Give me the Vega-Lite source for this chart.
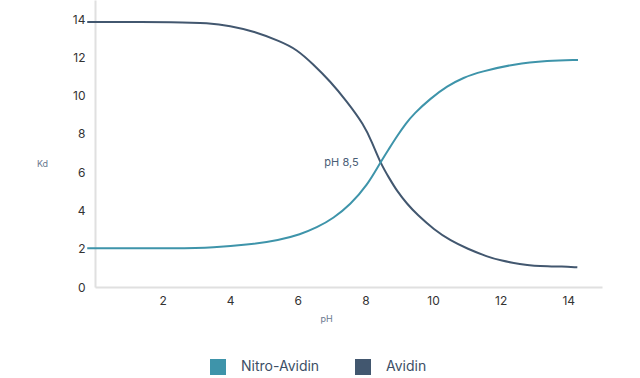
{
  "$schema": "https://vega.github.io/schema/vega-lite/v6.json",
  "width": 507,
  "height": 287,
  "autosize": "none",
  "padding": {"left": 95, "top": 0, "right": 38, "bottom": 91},
  "config": {
    "view": {"stroke": null},
    "font": "Inter",
    "axis": {"grid": false, "ticks": false, "domainColor": "#e0e0e0", "domainWidth": 2, "labelColor": "#333333", "labelFontSize": 12, "labelFont": "Inter", "titleFont": "Inter", "titleFontWeight": "normal", "titleFontSize": 9, "titleColor": "#6b7a90"}
  },
  "layer": [
    {
      "data": {"values": [
        {"ph": -0.23, "kd": 13.85, "s": "Avidin"},
        {"ph": 2.6, "kd": 13.85, "s": "Avidin"},
        {"ph": 3.3, "kd": 13.8, "s": "Avidin"},
        {"ph": 4.0, "kd": 13.66, "s": "Avidin"},
        {"ph": 4.7, "kd": 13.36, "s": "Avidin"},
        {"ph": 5.47, "kd": 12.85, "s": "Avidin"},
        {"ph": 5.97, "kd": 12.42, "s": "Avidin"},
        {"ph": 6.45, "kd": 11.65, "s": "Avidin"},
        {"ph": 6.96, "kd": 10.75, "s": "Avidin"},
        {"ph": 7.45, "kd": 9.7, "s": "Avidin"},
        {"ph": 7.95, "kd": 8.5, "s": "Avidin"},
        {"ph": 8.2, "kd": 7.55, "s": "Avidin"},
        {"ph": 8.44, "kd": 6.5, "s": "Avidin"},
        {"ph": 8.7, "kd": 5.7, "s": "Avidin"},
        {"ph": 8.94, "kd": 5.0, "s": "Avidin"},
        {"ph": 9.23, "kd": 4.35, "s": "Avidin"},
        {"ph": 9.53, "kd": 3.78, "s": "Avidin"},
        {"ph": 10.03, "kd": 3.0, "s": "Avidin"},
        {"ph": 10.52, "kd": 2.42, "s": "Avidin"},
        {"ph": 11.02, "kd": 2.0, "s": "Avidin"},
        {"ph": 11.61, "kd": 1.58, "s": "Avidin"},
        {"ph": 12.01, "kd": 1.38, "s": "Avidin"},
        {"ph": 12.6, "kd": 1.18, "s": "Avidin"},
        {"ph": 13.0, "kd": 1.1, "s": "Avidin"},
        {"ph": 13.39, "kd": 1.08, "s": "Avidin"},
        {"ph": 13.8, "kd": 1.07, "s": "Avidin"},
        {"ph": 14.27, "kd": 1.03, "s": "Avidin"},
        {"ph": -0.23, "kd": 2.02, "s": "Nitro-Avidin"},
        {"ph": 2.6, "kd": 2.02, "s": "Nitro-Avidin"},
        {"ph": 3.49, "kd": 2.07, "s": "Nitro-Avidin"},
        {"ph": 4.48, "kd": 2.2, "s": "Nitro-Avidin"},
        {"ph": 5.47, "kd": 2.45, "s": "Nitro-Avidin"},
        {"ph": 6.07, "kd": 2.75, "s": "Nitro-Avidin"},
        {"ph": 6.56, "kd": 3.1, "s": "Nitro-Avidin"},
        {"ph": 7.06, "kd": 3.6, "s": "Nitro-Avidin"},
        {"ph": 7.55, "kd": 4.3, "s": "Nitro-Avidin"},
        {"ph": 8.05, "kd": 5.3, "s": "Nitro-Avidin"},
        {"ph": 8.44, "kd": 6.5, "s": "Nitro-Avidin"},
        {"ph": 8.69, "kd": 7.2, "s": "Nitro-Avidin"},
        {"ph": 8.94, "kd": 7.9, "s": "Nitro-Avidin"},
        {"ph": 9.2, "kd": 8.55, "s": "Nitro-Avidin"},
        {"ph": 9.43, "kd": 9.05, "s": "Nitro-Avidin"},
        {"ph": 9.93, "kd": 9.86, "s": "Nitro-Avidin"},
        {"ph": 10.42, "kd": 10.5, "s": "Nitro-Avidin"},
        {"ph": 10.9, "kd": 10.95, "s": "Nitro-Avidin"},
        {"ph": 11.41, "kd": 11.25, "s": "Nitro-Avidin"},
        {"ph": 12.4, "kd": 11.66, "s": "Nitro-Avidin"},
        {"ph": 13.39, "kd": 11.83, "s": "Nitro-Avidin"},
        {"ph": 14.29, "kd": 11.87, "s": "Nitro-Avidin"}
      ]},
      "mark": {"type": "line", "interpolate": "basis", "strokeWidth": 2},
      "encoding": {
        "x": {"field": "ph", "type": "quantitative", "scale": {"domain": [0, 15], "nice": false, "zero": false}, "axis": {"values": [2, 4, 6, 8, 10, 12, 14], "title": "pH", "labelPadding": 8, "titleX": 231, "titleY": 31, "titleBaseline": "middle", "titleAlign": "center"}},
        "y": {"field": "kd", "type": "quantitative", "scale": {"domain": [0, 15], "nice": false}, "axis": {"values": [0, 2, 4, 6, 8, 10, 12, 14], "title": "Kd", "titleAngle": 0, "titleX": -53, "titleY": 163, "titleAlign": "center", "titleBaseline": "middle", "labelPadding": 10}},
        "color": {"field": "s", "type": "nominal", "scale": {"domain": ["Nitro-Avidin", "Avidin"], "range": ["#3e94aa", "#42576f"]}, "legend": {"title": null, "orient": "none", "legendX": 115, "legendY": 359, "direction": "horizontal", "symbolType": "square", "symbolSize": 256, "symbolStrokeWidth": 0, "labelFontSize": 14, "labelColor": "#3d4f66", "labelFont": "Inter", "labelOffset": 15, "columnPadding": 35, "encode": {"symbols": {"update": {"fill": {"scale": "color", "field": "value"}, "strokeWidth": {"value": 0}}}}}}
      }
    },
    {
      "data": {"values": [{"ph": 7.8, "kd": 6.5, "label": "pH 8,5"}]},
      "mark": {"type": "text", "align": "right", "baseline": "middle", "fontSize": 11, "color": "#4a5d75", "font": "Inter"},
      "encoding": {
        "x": {"field": "ph", "type": "quantitative"},
        "y": {"field": "kd", "type": "quantitative"},
        "text": {"field": "label"}
      }
    }
  ]
}
